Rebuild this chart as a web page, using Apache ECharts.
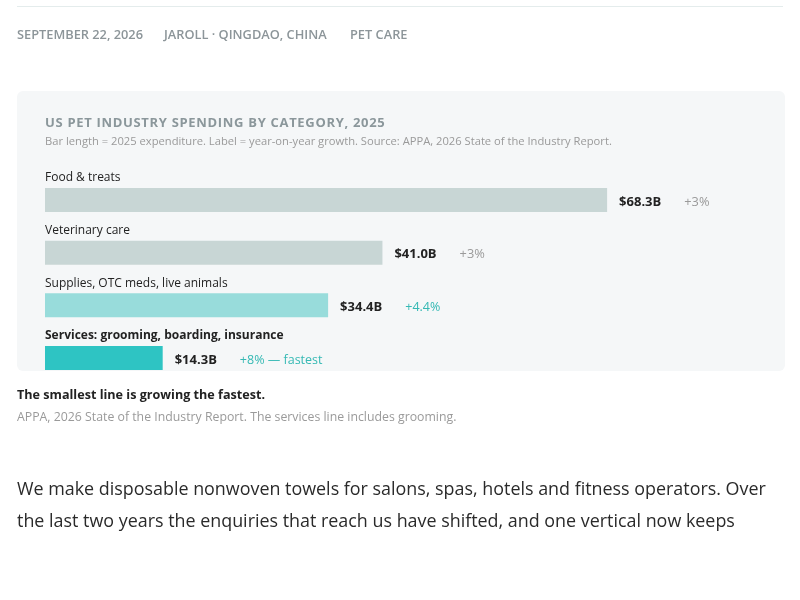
<!DOCTYPE html>
<html><head><meta charset="utf-8">
<script src="https://cdn.jsdelivr.net/npm/echarts@6/dist/echarts.min.js"></script>
<style>html,body{margin:0;padding:0;background:#fff;}#c{width:800px;height:600px;}</style>
</head><body><div id="c"></div>
<script>
const categories = ["Food & treats", "Veterinary care", "Supplies, OTC meds, live animals", "Services: grooming, boarding, insurance"];
const spend = [68.3, 41.0, 34.4, 14.3];
const valueLabels = ["$68.3B", "$41.0B", "$34.4B", "$14.3B"];
const growthLabels = ["+3%", "+3%", "+4.4%", "+8% — fastest"];
const highlight = [false, false, true, true];
const metaItems = ["SEPTEMBER 22, 2026", "JAROLL · QINGDAO, CHINA", "PET CARE"];

const FONT = '"Open Sans", "Noto Sans", sans-serif';
const barColors = ["#c8d6d5", "#c8d6d5", "#98dcdb", "#2ec4c3"];

const mctx = document.createElement('canvas').getContext('2d');
function spacedText(str, x, y, font, fill, spacing) {
  mctx.font = font;
  const children = [];
  let cx = 0;
  for (const ch of str) {
    children.push({type: 'text', x: cx, y: 0, style: {text: ch, font: font, fill: fill, verticalAlign: 'middle'}});
    cx += mctx.measureText(ch).width + spacing;
  }
  return {type: 'group', x: x, y: y, children: children, z: 1};
}

const chart = echarts.init(document.getElementById('c'), null, {renderer: 'canvas'});
const metaX = [17, 164, 350];
const graphics = [
  {type: 'rect', shape: {x: 17, y: 6, width: 766, height: 1}, style: {fill: '#e4ecec'}, z: 0},
  {type: 'rect', shape: {x: 17, y: 91, width: 768, height: 280, r: 6}, style: {fill: '#f5f7f8'}, z: 0},
  spacedText('US PET INDUSTRY SPENDING BY CATEGORY, 2025', 45, 123, 'bold 13px ' + FONT, '#8b979b', 0.68),
  {type: 'text', x: 45, y: 142, style: {text: 'Bar length = 2025 expenditure. Label = year-on-year growth. Source: APPA, 2026 State of the Industry Report.', font: '11.2px ' + FONT, fill: '#9a9a9a', verticalAlign: 'middle'}, z: 1},
  {type: 'text', x: 17, y: 395, style: {text: 'The smallest line is growing the fastest.', font: 'bold 12.6px ' + FONT, fill: '#222', verticalAlign: 'middle'}, z: 1},
  {type: 'text', x: 17, y: 417, style: {text: 'APPA, 2026 State of the Industry Report. The services line includes grooming.', font: '12.3px ' + FONT, fill: '#9a9a9a', verticalAlign: 'middle'}, z: 1},
  {type: 'text', x: 17, y: 489.5, style: {text: 'We make disposable nonwoven towels for salons, spas, hotels and fitness operators. Over', font: '17.9px ' + FONT, fill: '#2a2a2a', verticalAlign: 'middle'}, z: 1},
  {type: 'text', x: 17, y: 521.5, style: {text: 'the last two years the enquiries that reach us have shifted, and one vertical now keeps', font: '17.9px ' + FONT, fill: '#2a2a2a', verticalAlign: 'middle'}, z: 1}
];
metaItems.forEach((t, i) => graphics.push({type: 'text', x: metaX[i], y: 35.5, style: {text: t, font: '600 12.8px ' + FONT, fill: '#8c9599', verticalAlign: 'middle'}, z: 1}));

const PXPER = 8.23;
const gridLeft = 45;
const xMax = 80;
const option = {
  animation: false,
  graphic: graphics,
  grid: {left: gridLeft, width: xMax * PXPER, top: 173.67, height: 210.67, containLabel: false},
  xAxis: {type: 'value', min: 0, max: xMax, show: false},
  yAxis: {
    type: 'category', data: categories, inverse: true,
    axisLine: {show: false}, axisTick: {show: false}, splitLine: {show: false},
    axisLabel: {
      inside: true, margin: 0, align: 'left', verticalAlign: 'bottom', padding: [0, 0, 16, 0],
      fontFamily: FONT, fontSize: 12, color: '#222',
      formatter: (v, i) => i === 3 ? '{b|' + v + '}' : v,
      rich: {b: {fontFamily: FONT, fontSize: 12, fontWeight: 'bold', color: '#222'}}
    }
  },
  series: [{
    type: 'bar', data: spend.map((v, i) => ({value: v, itemStyle: {color: barColors[i]}})),
    barWidth: 24, z: 2,
    label: {
      show: true, position: 'right', distance: 12, offset: [0, 2],
      formatter: p => '{v|' + valueLabels[p.dataIndex] + '}{' + (highlight[p.dataIndex] ? 'gt' : 'g') + '|' + growthLabels[p.dataIndex] + '}',
      rich: {
        v: {fontFamily: FONT, fontSize: 13, fontWeight: 'bold', color: '#222', padding: [0, 23, 0, 0]},
        g: {fontFamily: FONT, fontSize: 12.8, color: '#9a9a9a'},
        gt: {fontFamily: FONT, fontSize: 12.5, fontWeight: 500, color: '#35b9b4'}
      }
    }
  }]
};
chart.setOption(option);
</script></body></html>
